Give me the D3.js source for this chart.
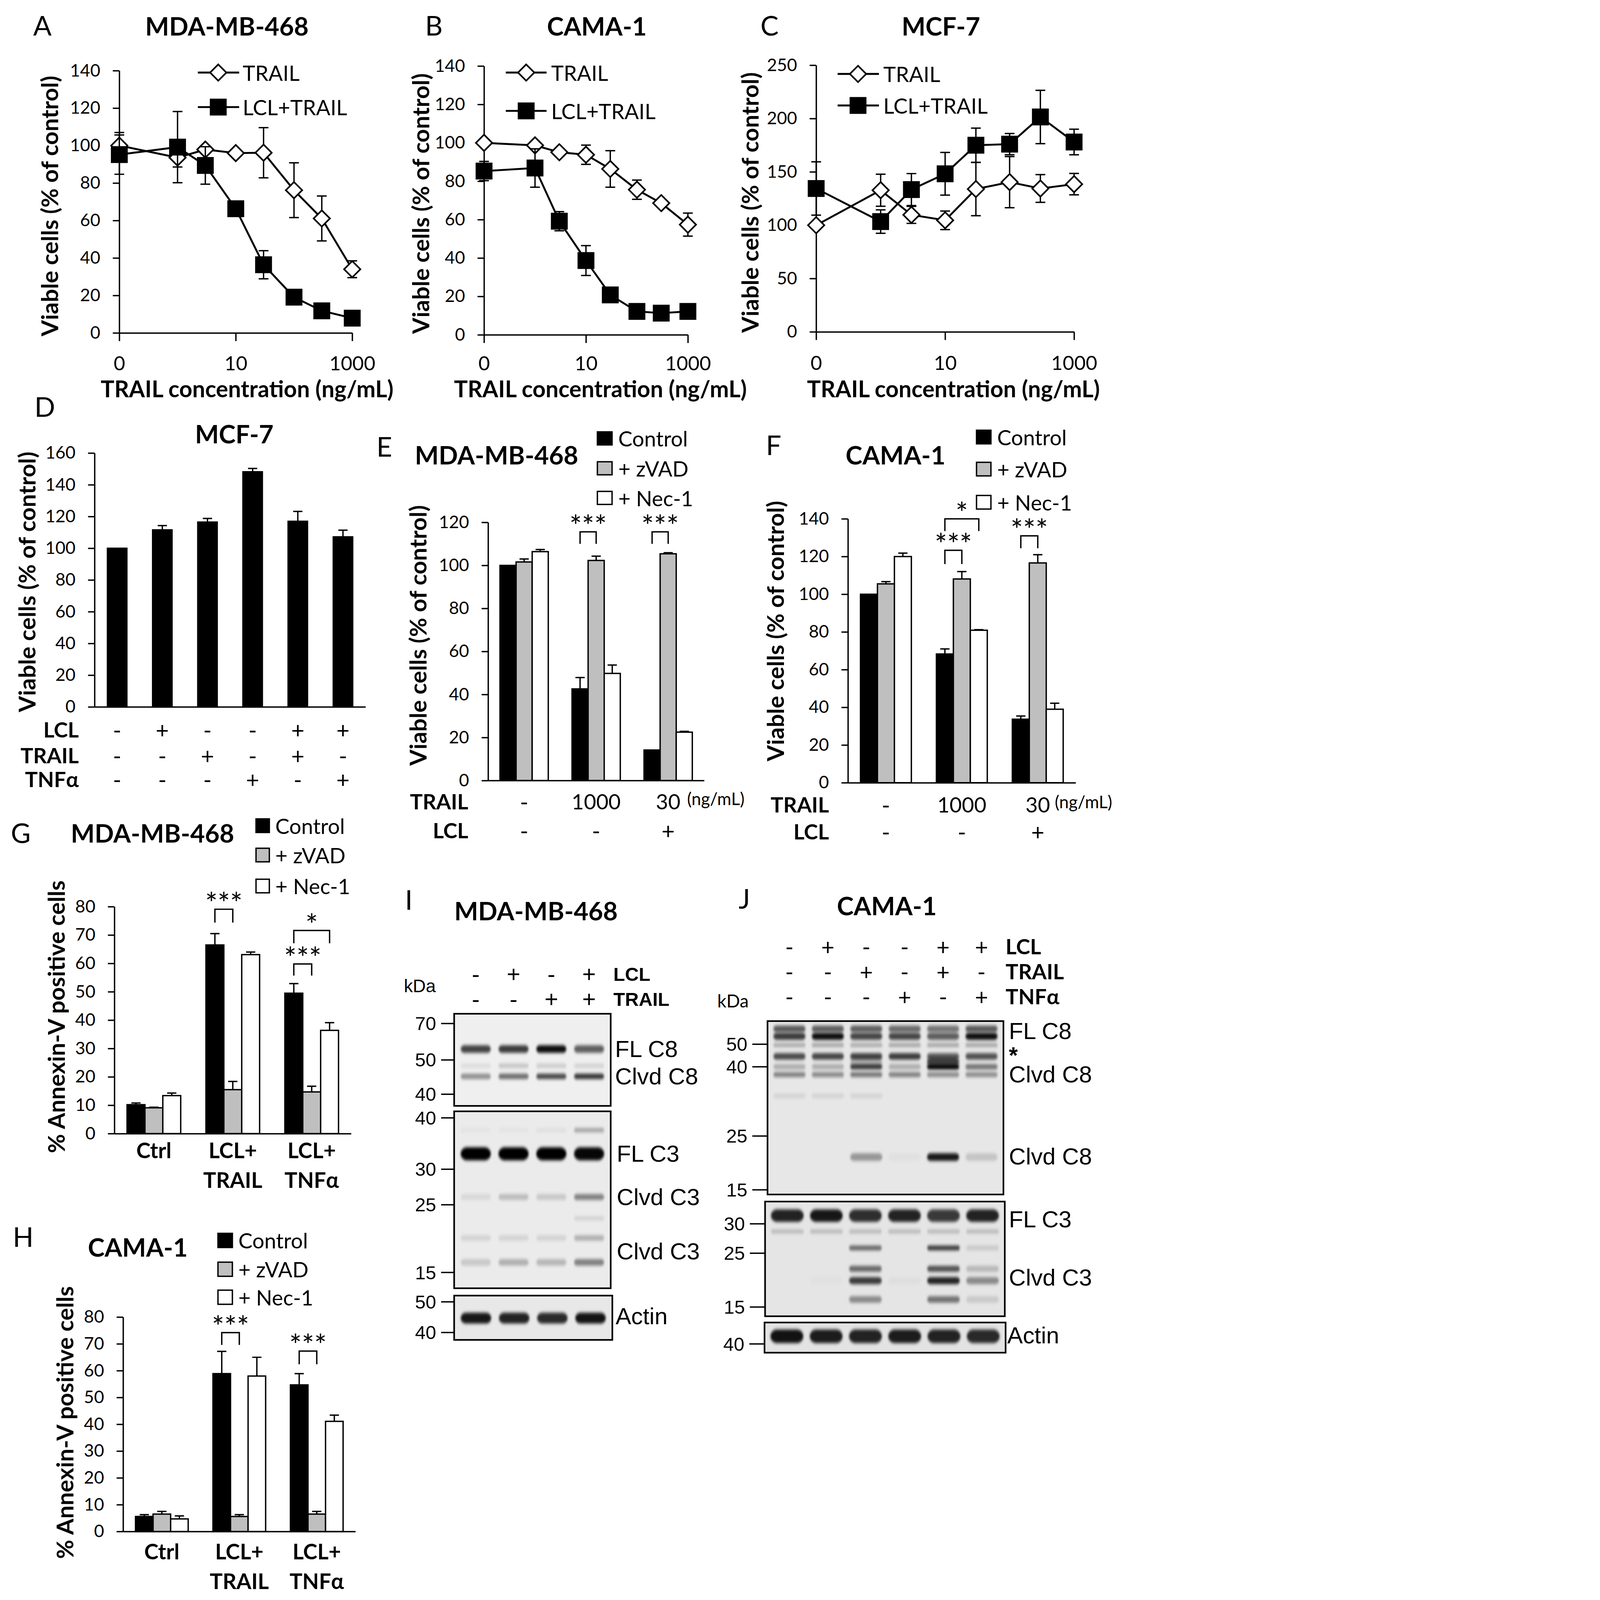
<!DOCTYPE html>
<html><head><meta charset="utf-8">
<script src="https://cdn.jsdelivr.net/npm/d3@7"></script>
<style>html,body{margin:0;padding:0;background:#fff;overflow:hidden}svg{display:block}</style>
</head><body>
<script>
// ================= DATA =================
const doseValues = [0, 1, 3, 10, 30, 100, 300, 1000];
const doseTicks = [0, 10, 1000];
const doseTickLabels = ["0", "10", "1000"];
const lineSeriesNames = ["TRAIL", "LCL+TRAIL"];

const viabA_TRAIL = [100, 93.6, 97.9, 96, 96.2, 76.2, 61.1, 34];
const viabA_TRAIL_err = [7, 5, 2, 1, 13.4, 14.6, 12, 4.5];
const viabA_LCL = [95.2, 99.2, 89.4, 66.3, 36.4, 19.1, 11.8, 7.9];
const viabA_LCL_err = [10.5, 19, 10, 2, 7.5, 1, 1, 1];
const ticksA = [0, 20, 40, 60, 80, 100, 120, 140];

const viabB_TRAIL = [100, 98.7, 95.1, 93.8, 86.4, 75.6, 68.6, 57.4];
const viabB_TRAIL_err = [1, 2, 1, 5, 9.5, 5, 1, 6];
const viabB_LCL = [85.3, 86.9, 59.2, 38.7, 20.8, 12.2, 11.3, 12.2];
const viabB_LCL_err = [5, 10, 5, 7.8, 1, 1, 1, 1];
const ticksB = [0, 20, 40, 60, 80, 100, 120, 140];

const viabC_TRAIL = [100, 132.8, 109.7, 104.6, 133.9, 140.4, 134.4, 138.5];
const viabC_TRAIL_err = [1, 15, 8, 8.7, 25, 24, 13, 10];
const viabC_LCL = [134.4, 103.4, 133.4, 148.2, 175, 176, 201.5, 178];
const viabC_LCL_err = [25, 11, 15, 20, 16, 10, 25, 12];
const ticksC = [0, 50, 100, 150, 200, 250];

const viabD = [100, 111.6, 116.5, 148.2, 117, 107.2];
const viabD_err = [0, 2.7, 2.3, 2.1, 6.2, 4.2];
const rowD_LCL = ["-", "+", "-", "-", "+", "+"];
const rowD_TRAIL = ["-", "-", "+", "-", "+", "-"];
const rowD_TNF = ["-", "-", "-", "+", "-", "+"];
const ticksD = [0, 20, 40, 60, 80, 100, 120, 140, 160];

const treatmentNames = ["Control", "+ zVAD", "+ Nec-1"];
const viabE_Control = [100, 42.6, 14.2];
const viabE_Control_err = [0, 5.3, 0];
const viabE_zVAD = [101.6, 102.3, 105.4];
const viabE_zVAD_err = [1.4, 2.0, 0.5];
const viabE_Nec1 = [106.4, 49.8, 22.5];
const viabE_Nec1_err = [1.0, 3.9, 0.4];
const ticksE = [0, 20, 40, 60, 80, 100, 120];

const viabF_Control = [100, 68.3, 33.7];
const viabF_Control_err = [0, 2.7, 1.7];
const viabF_zVAD = [105.5, 108.1, 116.6];
const viabF_zVAD_err = [1.2, 3.9, 4.4];
const viabF_Nec1 = [120, 80.9, 39];
const viabF_Nec1_err = [1.8, 0.3, 3.2];
const ticksF = [0, 20, 40, 60, 80, 100, 120, 140];

const rowEF_TRAIL = ["-", "1000", "30"];
const rowEF_LCL = ["-", "-", "+"];

const annexG_Control = [10.2, 66.5, 49.5];
const annexG_Control_err = [0.6, 4.0, 3.4];
const annexG_zVAD = [9.1, 15.5, 14.7];
const annexG_zVAD_err = [0.2, 2.9, 2.0];
const annexG_Nec1 = [13.4, 63.1, 36.4];
const annexG_Nec1_err = [0.9, 0.9, 2.7];

const annexH_Control = [5.6, 58.9, 54.7];
const annexH_Control_err = [0.7, 8.3, 4.2];
const annexH_zVAD = [6.5, 5.6, 6.5];
const annexH_zVAD_err = [1.0, 0.7, 1.0];
const annexH_Nec1 = [4.7, 58.0, 41.1];
const annexH_Nec1_err = [1.1, 7.0, 2.3];
const annexCategories = [["Ctrl"], ["LCL+", "TRAIL"], ["LCL+", "TNFα"]];
const ticksGH = [0, 10, 20, 30, 40, 50, 60, 70, 80];

const sigE = [{group:1, from:0, to:1, top:115.6, leg:110, label:"***"},
              {group:2, from:0, to:1, top:115.6, leg:110, label:"***"}];
const sigF = [{group:1, from:0, to:1, top:123.3, leg:116, label:"***"},
              {group:1, from:0, to:2, top:140, leg:133.5, label:"*"},
              {group:2, from:0, to:1, top:131, leg:124.4, label:"***"}];
const sigG = [{group:1, from:0, to:1, top:79.1, leg:74.4, label:"***"},
              {group:2, from:0, to:1, top:59.8, leg:55.7, label:"***"},
              {group:2, from:0, to:2, top:71.6, leg:67.1, label:"*"}];
const sigH = [{group:1, from:0, to:1, top:74.2, leg:69.6, label:"***"},
              {group:2, from:0, to:1, top:67.3, leg:62.4, label:"***"}];

// Western blots (band positions in kDa, intensities per lane 0..1)
const blotI_LCL = ["-", "+", "-", "+"];
const blotI_TRAIL = ["-", "-", "+", "+"];
const blotI_C8_markers = [70, 50, 40];
const blotI_C8_bandKDa = [56, 48.3, 45.2];
const blotI_C8_bandInt = [[0.72, 0.75, 0.95, 0.6], [0.08, 0.18, 0.15, 0.12], [0.4, 0.55, 0.7, 0.78]];
const blotI_C8_labels = [["FL C8", 56], ["Clvd C8", 45.2]];
const blotI_C3_markers = [40, 30, 25, 15];
const blotI_C3_bandKDa = [37.6, 33, 26.1, 23, 20.1, 16.5];
const blotI_C3_bandInt = [[0.03, 0.03, 0.05, 0.3], [1, 1, 1, 0.97], [0.08, 0.2, 0.15, 0.45], [0, 0, 0, 0.1], [0.1, 0.1, 0.1, 0.25], [0.15, 0.25, 0.22, 0.45]];
const blotI_C3_labels = [["FL C3", 33], ["Clvd C3", 26.1], ["Clvd C3", 18.1]];
const blotI_Act_markers = [50, 40];
const blotI_Act_bandKDa = [44.7];
const blotI_Act_bandInt = [[0.9, 0.85, 0.82, 0.92]];
const blotI_Act_labels = [["Actin", 45.3]];

const blotJ_LCL = ["-", "+", "-", "-", "+", "+"];
const blotJ_TRAIL = ["-", "-", "+", "-", "+", "-"];
const blotJ_TNF = ["-", "-", "-", "+", "-", "+"];
const blotJ_C8_markers = [50, 40, 25, 15];
const blotJ_C8_bandKDa = [56.8, 53.5, 49.6, 44.6, 42.2, 40, 38.3, 33.7, 21.1];
const blotJ_C8_bandInt = [[0.62, 0.6, 0.6, 0.55, 0.5, 0.62], [0.75, 0.95, 0.7, 0.7, 0.6, 0.95], [0.28, 0.3, 0.28, 0.3, 0.3, 0.3],
  [0.68, 0.7, 0.72, 0.75, 0.6, 0.65], [0, 0, 0.2, 0, 0.7, 0], [0.25, 0.25, 0.75, 0.25, 1, 0.5], [0.45, 0.42, 0.5, 0.45, 0.4, 0.4],
  [0.1, 0.1, 0.1, 0, 0, 0], [0, 0, 0.35, 0.03, 0.9, 0.15]];
const blotJ_C8_labels = [["FL C8", 55.9], ["*", 46.5], ["Clvd C8", 38.3], ["Clvd C8", 21.2]];
const blotJ_C3_markers = [30, 25, 15];
const blotJ_C3_bandKDa = [31.4, 28.7, 25.9, 22.1, 19.9, 16.4];
const blotJ_C3_bandInt = [[0.85, 0.9, 0.8, 0.85, 0.75, 0.85], [0.2, 0.2, 0.2, 0.2, 0.2, 0.2], [0, 0, 0.55, 0, 0.75, 0.12], [0, 0, 0.55, 0, 0.65, 0.2], [0, 0.02, 0.75, 0.03, 0.85, 0.4], [0, 0, 0.4, 0, 0.5, 0.12]];
const blotJ_C3_labels = [["FL C3", 30.8], ["Clvd C3", 20.5]];
const blotJ_Act_markers = [40];
const blotJ_Act_bandKDa = [42.5];
const blotJ_Act_bandInt = [[0.92, 0.88, 0.85, 0.88, 0.85, 0.82]];
const blotJ_Act_labels = [["Actin", 42.8]];

// ================= SETUP =================
const W = 4129, H = 5887;
const vw = window.innerWidth || W, vh = window.innerHeight || H;
const fit = Math.min(1, vw / W, vh / H);
const FONT = "Lato, 'Open Sans', 'DejaVu Sans', sans-serif";
const BFONT = "'Liberation Sans', Arial, sans-serif";
const svg = d3.select("body").append("svg").attr("width", W * fit).attr("height", H * fit).attr("viewBox", `0 0 ${W} ${H}`);
svg.append("rect").attr("width", W).attr("height", H).attr("fill", "#fff");
const defs = svg.append("defs");
defs.append("filter").attr("id", "blur").attr("x", "-10%").attr("y", "-150%").attr("width", "120%").attr("height", "400%")
  .append("feGaussianBlur").attr("stdDeviation", "4 6");

function txt(g, x, y, s, size, o = {}) {
  const t = g.append("text").attr("x", x).attr("y", y)
    .attr("font-family", o.family || FONT).attr("font-size", size)
    .attr("font-weight", o.weight || "normal").attr("fill", "#000")
    .attr("text-anchor", o.anchor || "start").text(s);
  if (o.baseline) t.attr("dominant-baseline", o.baseline);
  if (o.rotate) t.attr("transform", `rotate(${o.rotate},${x},${y})`);
  return t;
}
function styleAxis(sel, fs) {
  sel.attr("font-family", FONT).attr("font-size", fs);
  sel.selectAll(".domain").attr("stroke", "#000").attr("stroke-width", 5);
  sel.selectAll(".tick line").attr("stroke", "#000").attr("stroke-width", 5);
  sel.selectAll(".tick text").attr("fill", "#000").attr("font-size", fs).attr("font-family", FONT);
}
const SZ = {letter: 100, title: 93, ytick: 64, xtick: 73, axTitle: 84, yTitle: 86, legend: 78, rowLabel: 78, sign: 84, rowVal: 78, ngml: 63, cat: 79, star: 108};

function panelHeader(P) {
  const g = svg.append("g");
  txt(g, P.letter[0], P.letter[1], P.letterText, SZ.letter);
  txt(g, P.title[0], P.title[1], P.titleText, SZ.title, {weight: "bold", anchor: "middle"});
  txt(g, P.ytitle[0], P.ytitle[1], P.ytitleText, SZ.yTitle, {weight: "bold", anchor: "middle", baseline: "central", rotate: -90});
}

// ================= LINE PANELS (A-C) =================
function diamondPath(cx, cy, r) { return `M${cx},${cy - r}L${cx + r},${cy}L${cx},${cy + r}L${cx - r},${cy}Z`; }
function drawMarker(g, type, cx, cy) {
  if (type === "diamond") g.append("path").attr("d", diamondPath(cx, cy, 30)).attr("fill", "#fff").attr("stroke", "#000").attr("stroke-width", 6);
  else g.append("rect").attr("x", cx - 31).attr("y", cy - 31).attr("width", 62).attr("height", 62).attr("fill", "#000");
}
function drawLinePanel(P, D) {
  panelHeader(P);
  const g = svg.append("g");
  const x = d3.scaleLog().domain([0.1, 1000]).range([P.x0, P.x1]);
  const px = d => x(d === 0 ? 0.1 : d);
  const y = d3.scaleLinear().domain([0, d3.max(D.ticks)]).range([P.y0, P.y1]);
  g.append("g").attr("transform", `translate(${P.x0},0)`)
    .call(d3.axisLeft(y).tickValues(D.ticks).tickSize(24).tickSizeOuter(0).tickPadding(46).tickFormat(d3.format("d")))
    .call(s => styleAxis(s, SZ.ytick));
  g.append("g").attr("transform", `translate(0,${P.y0})`)
    .call(d3.axisBottom(x).tickValues(doseTicks.map(d => d === 0 ? 0.1 : d)).tickFormat((d, i) => doseTickLabels[i]).tickSize(30).tickSizeOuter(0).tickPadding(P.xpad))
    .call(s => styleAxis(s, SZ.xtick));
  txt(g, P.xtitle[0], P.xtitle[1], "TRAIL concentration (ng/mL)", SZ.axTitle, {weight: "bold", anchor: "middle"});
  const series = [{vals: D.trail, err: D.trailErr, m: "diamond"}, {vals: D.lcl, err: D.lclErr, m: "square"}];
  series.forEach(s => {
    const pts = s.vals.map((v, i) => ({x: px(doseValues[i]), v, e: s.err[i]}));
    g.append("g").selectAll("path").data(pts).join("path")
      .attr("d", d => `M${d.x - 18},${y(d.v + d.e)}H${d.x + 18}M${d.x},${y(d.v + d.e)}V${y(d.v - d.e)}M${d.x - 18},${y(d.v - d.e)}H${d.x + 18}`)
      .attr("stroke", "#000").attr("stroke-width", 5).attr("fill", "none");
    g.append("path").datum(pts).attr("d", d3.line().x(d => d.x).y(d => y(d.v)))
      .attr("stroke", "#000").attr("stroke-width", 7).attr("fill", "none");
    const mg = g.append("g");
    pts.forEach(d => drawMarker(mg, s.m, d.x, y(d.v)));
  });
  const L = P.legend;
  lineSeriesNames.forEach((name, i) => {
    g.append("line").attr("x1", L.x1).attr("x2", L.x2).attr("y1", L.ys[i]).attr("y2", L.ys[i]).attr("stroke", "#000").attr("stroke-width", 7);
    drawMarker(g, i === 0 ? "diamond" : "square", L.mx, L.ys[i]);
    txt(g, L.tx, L.ys[i], name, SZ.legend, {baseline: "central"});
  });
}

drawLinePanel({letterText: "A", letter: [122, 131], titleText: "MDA-MB-468", title: [835, 131],
  ytitleText: "Viable cells (% of control)", ytitle: [181, 758], xtitle: [909, 1462], xpad: 55,
  x0: 439, x1: 1296, y0: 1225, y1: 260,
  legend: {x1: 728, x2: 880, mx: 803, tx: 893, ys: [267, 394]}},
  {trail: viabA_TRAIL, trailErr: viabA_TRAIL_err, lcl: viabA_LCL, lclErr: viabA_LCL_err, ticks: ticksA});
drawLinePanel({letterText: "B", letter: [1564, 131], titleText: "CAMA-1", title: [2196, 131],
  ytitleText: "Viable cells (% of control)", ytitle: [1546, 749], xtitle: [2209, 1462], xpad: 48,
  x0: 1781, x1: 2531, y0: 1232, y1: 243,
  legend: {x1: 1861, x2: 2011, mx: 1936, tx: 2028, ys: [267, 408]}},
  {trail: viabB_TRAIL, trailErr: viabB_TRAIL_err, lcl: viabB_LCL, lclErr: viabB_LCL_err, ticks: ticksB});
drawLinePanel({letterText: "C", letter: [2798, 131], titleText: "MCF-7", title: [3462, 131],
  ytitleText: "Viable cells (% of control)", ytitle: [2758, 745], xtitle: [3508, 1462], xpad: 58,
  x0: 3003, x1: 3952, y0: 1221, y1: 240,
  legend: {x1: 3082, x2: 3234, mx: 3157, tx: 3250, ys: [272, 388]}},
  {trail: viabC_TRAIL, trailErr: viabC_TRAIL_err, lcl: viabC_LCL, lclErr: viabC_LCL_err, ticks: ticksC});

// ================= BAR PANELS (D-H) =================
const seriesColors = ["#000000", "#bfbfbf", "#ffffff"];
function drawBarPanel(P, D) {
  panelHeader(P);
  const g = svg.append("g");
  const nG = D.series[0].vals.length;
  const x = d3.scaleBand().domain(d3.range(nG)).range([P.x0, P.x1]).paddingInner(P.pi).paddingOuter(P.po);
  const xs = d3.scaleBand().domain(d3.range(D.series.length)).range([0, x.bandwidth()]);
  const y = d3.scaleLinear().domain([0, d3.max(D.ticks)]).range([P.y0, P.y1]);
  const cx = (gi, si) => x(gi) + xs(si) + xs.bandwidth() / 2;
  D.series.forEach((s, si) => {
    g.append("g").selectAll("rect").data(s.vals).join("rect")
      .attr("x", (v, i) => x(i) + xs(si)).attr("y", v => y(v))
      .attr("width", xs.bandwidth()).attr("height", v => y(0) - y(v))
      .attr("fill", s.color).attr("stroke", "#000").attr("stroke-width", 5);
  });
  D.series.forEach((s, si) => {
    g.append("g").selectAll("path").data(s.vals.map((v, i) => ({i, v, e: s.err[i]})).filter(d => d.e > 0)).join("path")
      .attr("d", d => { const c = cx(d.i, si); return `M${c},${y(d.v)}V${y(d.v + d.e)}M${c - 17},${y(d.v + d.e)}H${c + 17}`; })
      .attr("stroke", "#000").attr("stroke-width", 5).attr("fill", "none");
  });
  g.append("g").attr("transform", `translate(${P.x0},0)`)
    .call(d3.axisLeft(y).tickValues(D.ticks).tickSize(24).tickSizeOuter(0).tickPadding(46).tickFormat(d3.format("d")))
    .call(s => styleAxis(s, SZ.ytick));
  g.append("g").attr("transform", `translate(0,${P.y0})`)
    .call(d3.axisBottom(x).tickSize(0).tickSizeOuter(0).tickFormat(""))
    .call(s => styleAxis(s, SZ.ytick));
  (D.sig || []).forEach(b => {
    const xa = cx(b.group, b.from), xb = cx(b.group, b.to);
    g.append("path").attr("d", `M${xa},${y(b.leg)}V${y(b.top)}H${xb}V${y(b.leg)}`)
      .attr("stroke", "#000").attr("stroke-width", 5).attr("fill", "none");
    txt(g, (xa + xb) / 2, y(b.top) + P.starDy, b.label, SZ.star, {anchor: "middle"});
  });
  if (P.legend) {
    const L = P.legend;
    D.series.forEach((s, i) => {
      g.append("rect").attr("x", L.x).attr("y", L.ys[i] - L.h / 2).attr("width", L.w).attr("height", L.h)
        .attr("fill", s.color).attr("stroke", "#000").attr("stroke-width", 5);
      txt(g, L.tx, L.ys[i], s.name, SZ.legend, {baseline: "central"});
    });
  }
  (D.rows || []).forEach(r => {
    txt(g, P.rowLabelX, r.y, r.label, SZ.rowLabel, {weight: "bold", anchor: "end", baseline: "central"});
    r.vals.forEach((v, i) => txt(g, x(i) + x.bandwidth() / 2, r.y, v, v.length > 1 ? SZ.rowVal : SZ.sign, {anchor: "middle", baseline: "central"}));
  });
  if (P.ngml) txt(g, P.ngml[0], P.ngml[1], "(ng/mL)", SZ.ngml, {baseline: "central"});
  if (D.categories) {
    D.categories.forEach((lines, i) => lines.forEach((t, li) =>
      txt(g, x(i) + x.bandwidth() / 2, P.catY[li], t, SZ.cat, {weight: "bold", anchor: "middle"})));
  }
}

drawBarPanel({letterText: "D", letter: [127, 1534], titleText: "MCF-7", title: [862, 1631],
  ytitleText: "Viable cells (% of control)", ytitle: [98, 2141],
  x0: 348, x1: 1345, y0: 2601, y1: 1667, pi: 0.57, po: 0.285, rowLabelX: 290},
  {series: [{name: "", vals: viabD, err: viabD_err, color: "#000"}], ticks: ticksD,
   rows: [{label: "LCL", y: 2684, vals: rowD_LCL}, {label: "TRAIL", y: 2778, vals: rowD_TRAIL}, {label: "TNFα", y: 2866, vals: rowD_TNF}]});

drawBarPanel({letterText: "E", letter: [1385, 1680], titleText: "MDA-MB-468", title: [1827, 1709],
  ytitleText: "Viable cells (% of control)", ytitle: [1537, 2338],
  x0: 1796, x1: 2591, y0: 2872, y1: 1922, pi: 0.33, po: 0.165, rowLabelX: 1723, starDy: 18,
  legend: {x: 2198, w: 54, h: 48, tx: 2275, ys: [1613, 1723, 1832]}, ngml: [2528, 2938]},
  {series: [{name: treatmentNames[0], vals: viabE_Control, err: viabE_Control_err, color: seriesColors[0]},
            {name: treatmentNames[1], vals: viabE_zVAD, err: viabE_zVAD_err, color: seriesColors[1]},
            {name: treatmentNames[2], vals: viabE_Nec1, err: viabE_Nec1_err, color: seriesColors[2]}],
   ticks: ticksE, sig: sigE,
   rows: [{label: "TRAIL", y: 2948, vals: rowEF_TRAIL}, {label: "LCL", y: 3054, vals: rowEF_LCL}]});

drawBarPanel({letterText: "F", letter: [2818, 1675], titleText: "CAMA-1", title: [3295, 1709],
  ytitleText: "Viable cells (% of control)", ytitle: [2851, 2322],
  x0: 3120, x1: 3958, y0: 2880, y1: 1909, pi: 0.33, po: 0.165, rowLabelX: 3050, starDy: 18,
  legend: {x: 3593, w: 53, h: 50, tx: 3669, ys: [1608, 1726, 1848]}, ngml: [3881, 2949]},
  {series: [{name: treatmentNames[0], vals: viabF_Control, err: viabF_Control_err, color: seriesColors[0]},
            {name: treatmentNames[1], vals: viabF_zVAD, err: viabF_zVAD_err, color: seriesColors[1]},
            {name: treatmentNames[2], vals: viabF_Nec1, err: viabF_Nec1_err, color: seriesColors[2]}],
   ticks: ticksF, sig: sigF,
   rows: [{label: "TRAIL", y: 2959, vals: rowEF_TRAIL}, {label: "LCL", y: 3059, vals: rowEF_LCL}]});

drawBarPanel({letterText: "G", letter: [40, 3102], titleText: "MDA-MB-468", title: [561, 3100],
  ytitleText: "% Annexin-V positive cells", ytitle: [205, 3741],
  x0: 421, x1: 1292, y0: 4171, y1: 3336, pi: 0.32, po: 0.16, starDy: 18, catY: [4262, 4371],
  legend: {x: 942, w: 49, h: 50, tx: 1013, ys: [3038, 3146, 3260]}},
  {series: [{name: treatmentNames[0], vals: annexG_Control, err: annexG_Control_err, color: seriesColors[0]},
            {name: treatmentNames[1], vals: annexG_zVAD, err: annexG_zVAD_err, color: seriesColors[1]},
            {name: treatmentNames[2], vals: annexG_Nec1, err: annexG_Nec1_err, color: seriesColors[2]}],
   ticks: ticksGH, sig: sigG, categories: annexCategories});

drawBarPanel({letterText: "H", letter: [47, 4588], titleText: "CAMA-1", title: [507, 4623],
  ytitleText: "% Annexin-V positive cells", ytitle: [237, 5234],
  x0: 453, x1: 1308, y0: 5635, y1: 4846, pi: 0.32, po: 0.16, starDy: 18, catY: [5737, 5847],
  legend: {x: 802, w: 53, h: 52, tx: 877, ys: [4564, 4670, 4773]}},
  {series: [{name: treatmentNames[0], vals: annexH_Control, err: annexH_Control_err, color: seriesColors[0]},
            {name: treatmentNames[1], vals: annexH_zVAD, err: annexH_zVAD_err, color: seriesColors[1]},
            {name: treatmentNames[2], vals: annexH_Nec1, err: annexH_Nec1_err, color: seriesColors[2]}],
   ticks: ticksGH, sig: sigH, categories: annexCategories});

// ================= WESTERN BLOTS (I, J) =================
let clipN = 0;
function drawBlot(B, nLanes, markers, bandKDa, bandInt, bandH, labels) {
  const g = svg.append("g");
  const mw = d3.scaleLinear().domain(B.mwDomain).range(B.mwRange);
  const lane = d3.scaleBand().domain(d3.range(nLanes)).range([B.x0 + 10, B.x1 - 10]).paddingInner(B.pi).paddingOuter(B.po);
  const id = "clip" + (clipN++);
  defs.append("clipPath").attr("id", id).append("rect").attr("x", B.x0).attr("y", B.y0).attr("width", B.x1 - B.x0).attr("height", B.y1 - B.y0);
  g.append("rect").attr("x", B.x0).attr("y", B.y0).attr("width", B.x1 - B.x0).attr("height", B.y1 - B.y0).attr("fill", B.bg);
  const bands = [];
  bandKDa.forEach((k, bi) => bandInt[bi].forEach((v, li) => { if (v > 0) bands.push({k, v, li, h: bandH[bi]}); }));
  g.append("g").attr("clip-path", `url(#${id})`).selectAll("rect").data(bands).join("rect")
    .attr("x", d => lane(d.li)).attr("width", lane.bandwidth())
    .attr("y", d => mw(d.k) - d.h / 2).attr("height", d => d.h).attr("rx", d => d.h / 2)
    .attr("fill", "#000").attr("fill-opacity", d => d.v).attr("filter", "url(#blur)");
  g.append("rect").attr("x", B.x0).attr("y", B.y0).attr("width", B.x1 - B.x0).attr("height", B.y1 - B.y0)
    .attr("fill", "none").attr("stroke", "#000").attr("stroke-width", 6);
  markers.forEach(m => {
    g.append("line").attr("x1", B.x0 - B.tick).attr("x2", B.x0).attr("y1", mw(m)).attr("y2", mw(m)).attr("stroke", "#000").attr("stroke-width", 5);
    txt(g, B.x0 - B.tick - 18, mw(m), String(m), 70, {family: BFONT, anchor: "end", baseline: "central"});
  });
  labels.forEach(([t, k]) => txt(g, B.labelX, t === "*" ? mw(k) + 12 : mw(k), t, t === "*" ? 84 : 86,
    {family: BFONT, baseline: "central", weight: t === "*" ? "bold" : "normal"}));
  return lane;
}

(function () {
  const g = svg.append("g");
  txt(g, 1490, 3347, "I", SZ.letter);
  txt(g, 1972, 3386, "MDA-MB-468", SZ.title, {weight: "bold", anchor: "middle"});
  const box = {x0: 1671, x1: 2247, pi: 0.2, po: 0.1, tick: 48, labelX: 2263};
  const lane = drawBlot(Object.assign({}, box, {y0: 3730, y1: 4069, mwDomain: [70, 50, 40], mwRange: [3766, 3900, 4026], bg: "#efefef"}),
    4, blotI_C8_markers, blotI_C8_bandKDa, blotI_C8_bandInt, [28, 16, 20], blotI_C8_labels);
  drawBlot(Object.assign({}, box, {y0: 4089, y1: 4740, mwDomain: [40, 30, 25, 15], mwRange: [4113, 4302, 4433, 4682], bg: "#ebebeb", labelX: 2269}),
    4, blotI_C3_markers, blotI_C3_bandKDa, blotI_C3_bandInt, [16, 48, 22, 16, 20, 24], blotI_C3_labels);
  drawBlot(Object.assign({}, box, {x1: 2253, y0: 4767, y1: 4930, mwDomain: [50, 40], mwRange: [4790, 4903], bg: "#e8e8e8", labelX: 2265}),
    4, blotI_Act_markers, blotI_Act_bandKDa, blotI_Act_bandInt, [40], blotI_Act_labels);
  const rows = [{label: "LCL", y: 3584, vals: blotI_LCL}, {label: "TRAIL", y: 3676, vals: blotI_TRAIL}];
  rows.forEach(r => {
    txt(g, 2257, r.y, r.label, 70, {family: BFONT, weight: "bold", baseline: "central"});
    r.vals.forEach((v, i) => txt(g, lane(i) + lane.bandwidth() / 2, r.y, v, 86, {family: BFONT, anchor: "middle", baseline: "central"}));
  });
  txt(g, 1486, 3627, "kDa", 66, {family: BFONT, baseline: "central"});
})();

(function () {
  const g = svg.append("g");
  txt(g, 2718, 3343, "J", SZ.letter);
  txt(g, 3263, 3367, "CAMA-1", SZ.title, {weight: "bold", anchor: "middle"});
  const base = {pi: 0.16, po: 0.08, tick: 56, labelX: 3712};
  const lane = drawBlot(Object.assign({}, base, {x0: 2824, x1: 3692, y0: 3757, y1: 4395, mwDomain: [50, 40, 25, 15], mwRange: [3842, 3925, 4180, 4378], bg: "#e7e7e7"}),
    6, blotJ_C8_markers, blotJ_C8_bandKDa, blotJ_C8_bandInt, [24, 26, 14, 24, 30, 20, 18, 14, 28], blotJ_C8_labels);
  drawBlot(Object.assign({}, base, {x0: 2815, x1: 3697, y0: 4421, y1: 4843, mwDomain: [30, 25, 15], mwRange: [4503, 4611, 4809], bg: "#e5e5e5"}),
    6, blotJ_C3_markers, blotJ_C3_bandKDa, blotJ_C3_bandInt, [46, 14, 18, 22, 26, 24], blotJ_C3_labels);
  drawBlot(Object.assign({}, base, {x0: 2813, x1: 3700, y0: 4866, y1: 4977, mwDomain: [50, 40], mwRange: [4832, 4945], bg: "#e3e3e3", labelX: 3706}),
    6, blotJ_Act_markers, blotJ_Act_bandKDa, blotJ_Act_bandInt, [50], blotJ_Act_labels);
  const rows = [{label: "LCL", y: 3481, vals: blotJ_LCL}, {label: "TRAIL", y: 3573, vals: blotJ_TRAIL}, {label: "TNFα", y: 3665, vals: blotJ_TNF}];
  rows.forEach(r => {
    txt(g, 3700, r.y, r.label, SZ.rowLabel, {weight: "bold", baseline: "central"});
    r.vals.forEach((v, i) => txt(g, lane(i) + lane.bandwidth() / 2, r.y, v, SZ.sign, {anchor: "middle", baseline: "central"}));
  });
  txt(g, 2639, 3681, "kDa", 66, {baseline: "central"});
})();
</script>
</body></html>
